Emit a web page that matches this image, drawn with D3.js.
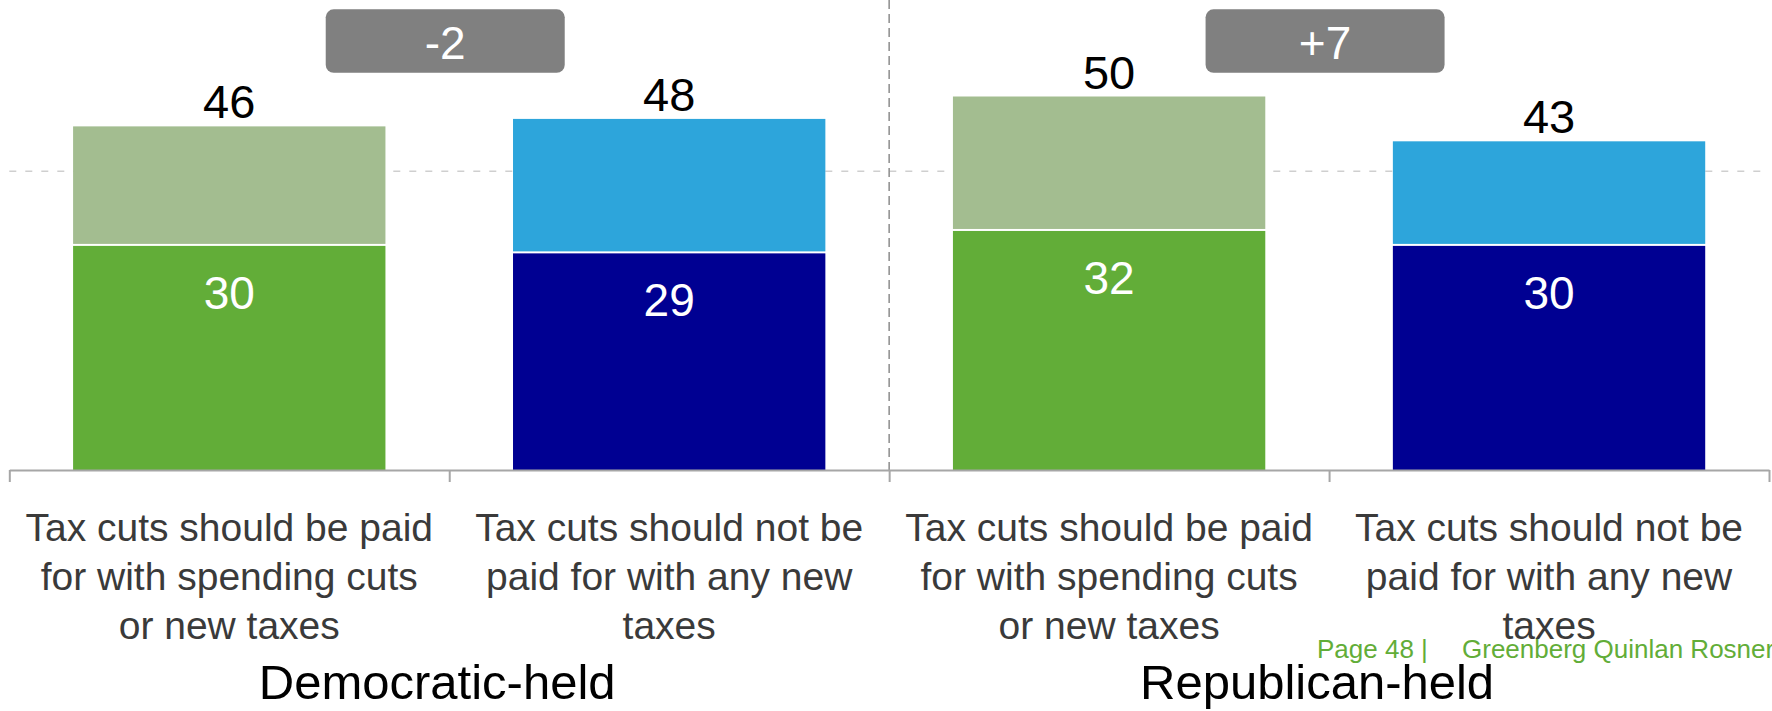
<!DOCTYPE html>
<html>
<head>
<meta charset="utf-8">
<script src="https://cdn.jsdelivr.net/npm/d3@7"></script>
<style>
  html, body { margin: 0; padding: 0; background: #fff; }
  svg { display: block; font-family: "Liberation Sans", Arial, sans-serif; }
</style>
</head>
<body>
<svg id="chart" width="1772" height="711"></svg>
<script>
// ---- data ----
const groups = ["Democratic-held", "Republican-held"];
const categoryKeys = ["dem-paid", "dem-notpaid", "rep-paid", "rep-notpaid"];
const categoryGroup = ["Democratic-held", "Democratic-held", "Republican-held", "Republican-held"];
const categoryLines = [
  ["Tax cuts should be paid", "for with spending cuts", "or new taxes"],
  ["Tax cuts should not be", "paid for with any new", "taxes"],
  ["Tax cuts should be paid", "for with spending cuts", "or new taxes"],
  ["Tax cuts should not be", "paid for with any new", "taxes"]
];
const strongValues = [30, 29, 32, 30];
const softValues = [16, 18, 18, 14];
const totalLabels = ["46", "48", "50", "43"];
const diffLabels = ["-2", "+7"];
const gridValues = [40];
const footerLabels = ["Page 48 |", "Greenberg Quinlan Rosner"];

const strongColors = ["#62AD38", "#000092", "#62AD38", "#000092"];
const softColors = ["#A3BD90", "#2DA5DB", "#A3BD90", "#2DA5DB"];

// ---- layout ----
const svg = d3.select("#chart");
const left = 9.3, right = 1769, baseY = 470;

const x = d3.scaleBand().domain(categoryKeys).range([left, right])
  .paddingInner(0.29).paddingOuter(0.145);
const y = d3.scaleLinear().domain([0, 60]).range([baseY, baseY - 7.47 * 60]);
const bound = d3.scaleLinear().domain([0, categoryKeys.length]).range([left, right]);

const font = '"Liberation Sans", Arial, sans-serif';

// gridline
svg.append("g").selectAll("line").data(gridValues).join("line")
  .attr("x1", left).attr("x2", right)
  .attr("y1", d => y(d)).attr("y2", d => y(d))
  .attr("stroke", "#cfcfcf").attr("stroke-width", 1.5)
  .attr("stroke-dasharray", "7,9");

// group separator
svg.append("line")
  .attr("x1", bound(2)).attr("x2", bound(2))
  .attr("y1", 0).attr("y2", baseY)
  .attr("stroke", "#8c8c8c").attr("stroke-width", 1.5)
  .attr("stroke-dasharray", "9,5");

const rows = categoryKeys.map((k, i) => ({
  key: k, strong: strongValues[i], soft: softValues[i],
  total: totalLabels[i], i
}));

// strong segments
svg.append("g").selectAll("rect").data(rows).join("rect")
  .attr("x", d => x(d.key)).attr("width", x.bandwidth())
  .attr("y", d => y(d.strong)).attr("height", d => y(0) - y(d.strong))
  .attr("fill", d => strongColors[d.i]);

// soft segments
svg.append("g").selectAll("rect").data(rows).join("rect")
  .attr("x", d => x(d.key)).attr("width", x.bandwidth())
  .attr("y", d => y(d.strong + d.soft)).attr("height", d => y(d.strong) - y(d.strong + d.soft) - 2)
  .attr("fill", d => softColors[d.i]);

// axis with boundary ticks
const axis = d3.axisBottom(bound).tickValues(d3.range(categoryKeys.length + 1))
  .tickSize(12).tickSizeOuter(0).tickFormat("");
const ax = svg.append("g").attr("transform", `translate(0,${baseY})`).call(axis);
ax.select(".domain").attr("stroke", "#a6a6a6").attr("stroke-width", 2);
ax.selectAll(".tick line").attr("stroke", "#a6a6a6").attr("stroke-width", 2);

// inner labels
svg.append("g").selectAll("text").data(rows).join("text")
  .attr("x", d => x(d.key) + x.bandwidth() / 2)
  .attr("y", d => y(d.strong) + 63)
  .attr("text-anchor", "middle").attr("font-size", 46).attr("fill", "#fff")
  .attr("font-family", font)
  .text(d => d.strong);

// total labels
svg.append("g").selectAll("text").data(rows).join("text")
  .attr("x", d => x(d.key) + x.bandwidth() / 2)
  .attr("y", d => y(d.strong + d.soft) - 8)
  .attr("text-anchor", "middle").attr("font-size", 47).attr("fill", "#000")
  .attr("font-family", font)
  .text(d => d.total);

// category labels
const cat = svg.append("g").selectAll("text").data(rows).join("text")
  .attr("text-anchor", "middle").attr("font-size", 39).attr("fill", "#3a3a3a")
  .attr("font-family", font);
cat.selectAll("tspan").data(d => categoryLines[d.i].map(l => ({ l, d })))
  .join("tspan")
  .attr("x", o => x(o.d.key) + x.bandwidth() / 2)
  .attr("y", (o, j) => 541 + j * 49)
  .text(o => o.l);

// difference boxes
const gCenters = groups.map((g, gi) => (bound(gi * 2) + bound(gi * 2 + 2)) / 2);
const boxes = svg.append("g").selectAll("g").data(diffLabels).join("g");
boxes.append("rect")
  .attr("x", (d, i) => gCenters[i] - 4 - 119.5).attr("y", 9.3)
  .attr("width", 239).attr("height", 63.5).attr("rx", 8).attr("ry", 8)
  .attr("fill", "#808080");
boxes.append("text")
  .attr("x", (d, i) => gCenters[i] - 4).attr("y", 59)
  .attr("text-anchor", "middle").attr("font-size", 46).attr("fill", "#fff")
  .attr("font-family", font)
  .text(d => d);

// footer
svg.append("text").attr("x", 1317).attr("y", 658)
  .attr("font-size", 26).attr("fill", "#62AD38").attr("font-family", font)
  .text(footerLabels[0]);
svg.append("text").attr("x", 1462).attr("y", 658)
  .attr("font-size", 26).attr("fill", "#62AD38").attr("font-family", font)
  .text(footerLabels[1]);

// group labels
svg.append("g").selectAll("text").data(groups).join("text")
  .attr("x", (d, i) => gCenters[i] - 12).attr("y", 699)
  .attr("text-anchor", "middle").attr("font-size", 49).attr("fill", "#000")
  .attr("font-family", font)
  .text(d => d);
</script>
</body>
</html>
